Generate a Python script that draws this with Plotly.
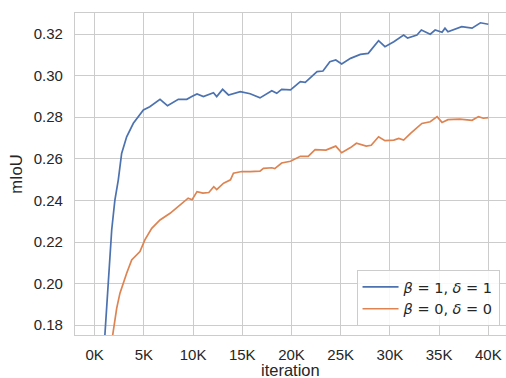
import plotly.graph_objects as go

# iterations and mIoU values
iter_b1 = [800, 1050, 1400, 1730, 2050, 2400, 2740, 3250, 3930, 4950, 5600, 6640, 7300, 7400,
           8500, 9360, 9870, 10400, 11050, 12070, 12400, 13000, 13600, 14800, 15800, 16800,
           18000, 18500, 19000, 19900, 20900, 21400, 22600, 23200, 23900, 24500, 25100, 26000,
           27000, 27800, 28850, 29500, 30400, 31400, 31800, 32750, 33200, 34100, 34600, 35300,
           35600, 35900, 37300, 38350, 39200, 40000]
miou_b1 = [0.158, 0.1753, 0.2005, 0.2258, 0.2400, 0.2499, 0.2626, 0.2706, 0.2771, 0.2835, 0.2850,
           0.2886, 0.2859, 0.2855, 0.2886, 0.2886, 0.2899, 0.2912, 0.2899, 0.2918, 0.2899, 0.2934,
           0.2907, 0.2923, 0.2913, 0.2893, 0.2927, 0.2915, 0.2934, 0.2931, 0.2971, 0.2968, 0.3019,
           0.3022, 0.3067, 0.3075, 0.3056, 0.3083, 0.3102, 0.3107, 0.3168, 0.3139, 0.3163, 0.3195,
           0.3180, 0.3195, 0.3219, 0.3199, 0.3219, 0.3208, 0.3228, 0.3211, 0.3235, 0.3228, 0.3254,
           0.3247]

iter_b0 = [1600, 1830, 2240, 2570, 3250, 3760, 4600, 5100, 5800, 6640, 7660, 8680, 9500, 9900,
           10400, 11000, 11600, 12100, 12400, 13100, 13800, 14100, 14950, 15800, 16800, 17150,
           18000, 18300, 19000, 19900, 20900, 21700, 22400, 23500, 24500, 25100, 26000, 26600,
           27600, 28100, 28850, 29500, 30400, 30900, 31400, 32100, 33250, 34100, 34800, 35300,
           35900, 37100, 38350, 39000, 39500, 40000]
miou_b0 = [0.165, 0.1753, 0.1882, 0.1954, 0.2050, 0.2114, 0.2154, 0.2210, 0.2266, 0.2306, 0.2338,
           0.2378, 0.2411, 0.2403, 0.2442, 0.2435, 0.2438, 0.2466, 0.2452, 0.2483, 0.2499, 0.2531,
           0.2539, 0.2538, 0.2541, 0.2554, 0.2557, 0.2553, 0.2580, 0.2588, 0.2612, 0.2612, 0.2644,
           0.2642, 0.2661, 0.2629, 0.2654, 0.2675, 0.2661, 0.2665, 0.2706, 0.2687, 0.2690, 0.2698,
           0.2690, 0.2722, 0.2770, 0.2778, 0.2803, 0.2775, 0.2788, 0.2791, 0.2785, 0.2803, 0.2795,
           0.2798]

x_tickvals = [0, 5000, 10000, 15000, 20000, 25000, 30000, 35000, 40000]
x_ticktext = ["0K", "5K", "10K", "15K", "20K", "25K", "30K", "35K", "40K"]
y_tickvals = [0.18, 0.20, 0.22, 0.24, 0.26, 0.28, 0.30, 0.32]

FONT = "Liberation Sans, Arial, sans-serif"
GRID = "#cccccc"

fig = go.Figure()
fig.add_trace(go.Scatter(x=iter_b1, y=miou_b1, mode="lines",
                         line=dict(color="#4C72B0", width=1.7),
                         name="<i>β</i> = 1, <i>δ</i> = 1"))
fig.add_trace(go.Scatter(x=iter_b0, y=miou_b0, mode="lines",
                         line=dict(color="#DD8452", width=1.7),
                         name="<i>β</i> = 0, <i>δ</i> = 0"))

fig.update_layout(
    width=506, height=378,
    margin=dict(l=75, r=0, t=13, b=43, autoexpand=False),
    paper_bgcolor="white", plot_bgcolor="white",
    font=dict(family=FONT, size=15, color="#262626"),
    showlegend=True,
    legend=dict(x=0.985, y=0.028, xanchor="right", yanchor="bottom",
                bgcolor="rgba(255,255,255,0.85)", bordercolor=GRID, borderwidth=1,
                font=dict(size=14.5, family="DejaVu Sans, sans-serif", color="#262626"),
                itemwidth=36, tracegroupgap=0),
    annotations=[dict(text="iteration", xref="x domain", yref="paper",
                      x=0.5, y=-0.109, xanchor="center", yanchor="middle",
                      borderpad=0, showarrow=False,
                      font=dict(size=16.5, family=FONT, color="#262626"))],
)
fig.update_xaxes(range=[-2000, 41800], tickvals=x_tickvals, ticktext=x_ticktext,
                 showgrid=True, gridcolor=GRID, gridwidth=1.3, automargin=False,
                 showline=True, linecolor=GRID, linewidth=1.3, mirror=True,
                 zeroline=False, ticks="", ticklabelstandoff=6)
fig.update_yaxes(range=[0.1753, 0.3301], tickvals=y_tickvals, tickformat=".2f",
                 showgrid=True, gridcolor=GRID, gridwidth=1.3, automargin=False,
                 showline=True, linecolor=GRID, linewidth=1.3, mirror=True,
                 zeroline=False, ticks="", ticklabelstandoff=8,
                 title=dict(text="mIoU", font=dict(size=16.5), standoff=6))

fig.write_html("out.html", config={"displayModeBar": False},
               post_script="document.body.style.margin='0';document.body.style.overflow='hidden';")
